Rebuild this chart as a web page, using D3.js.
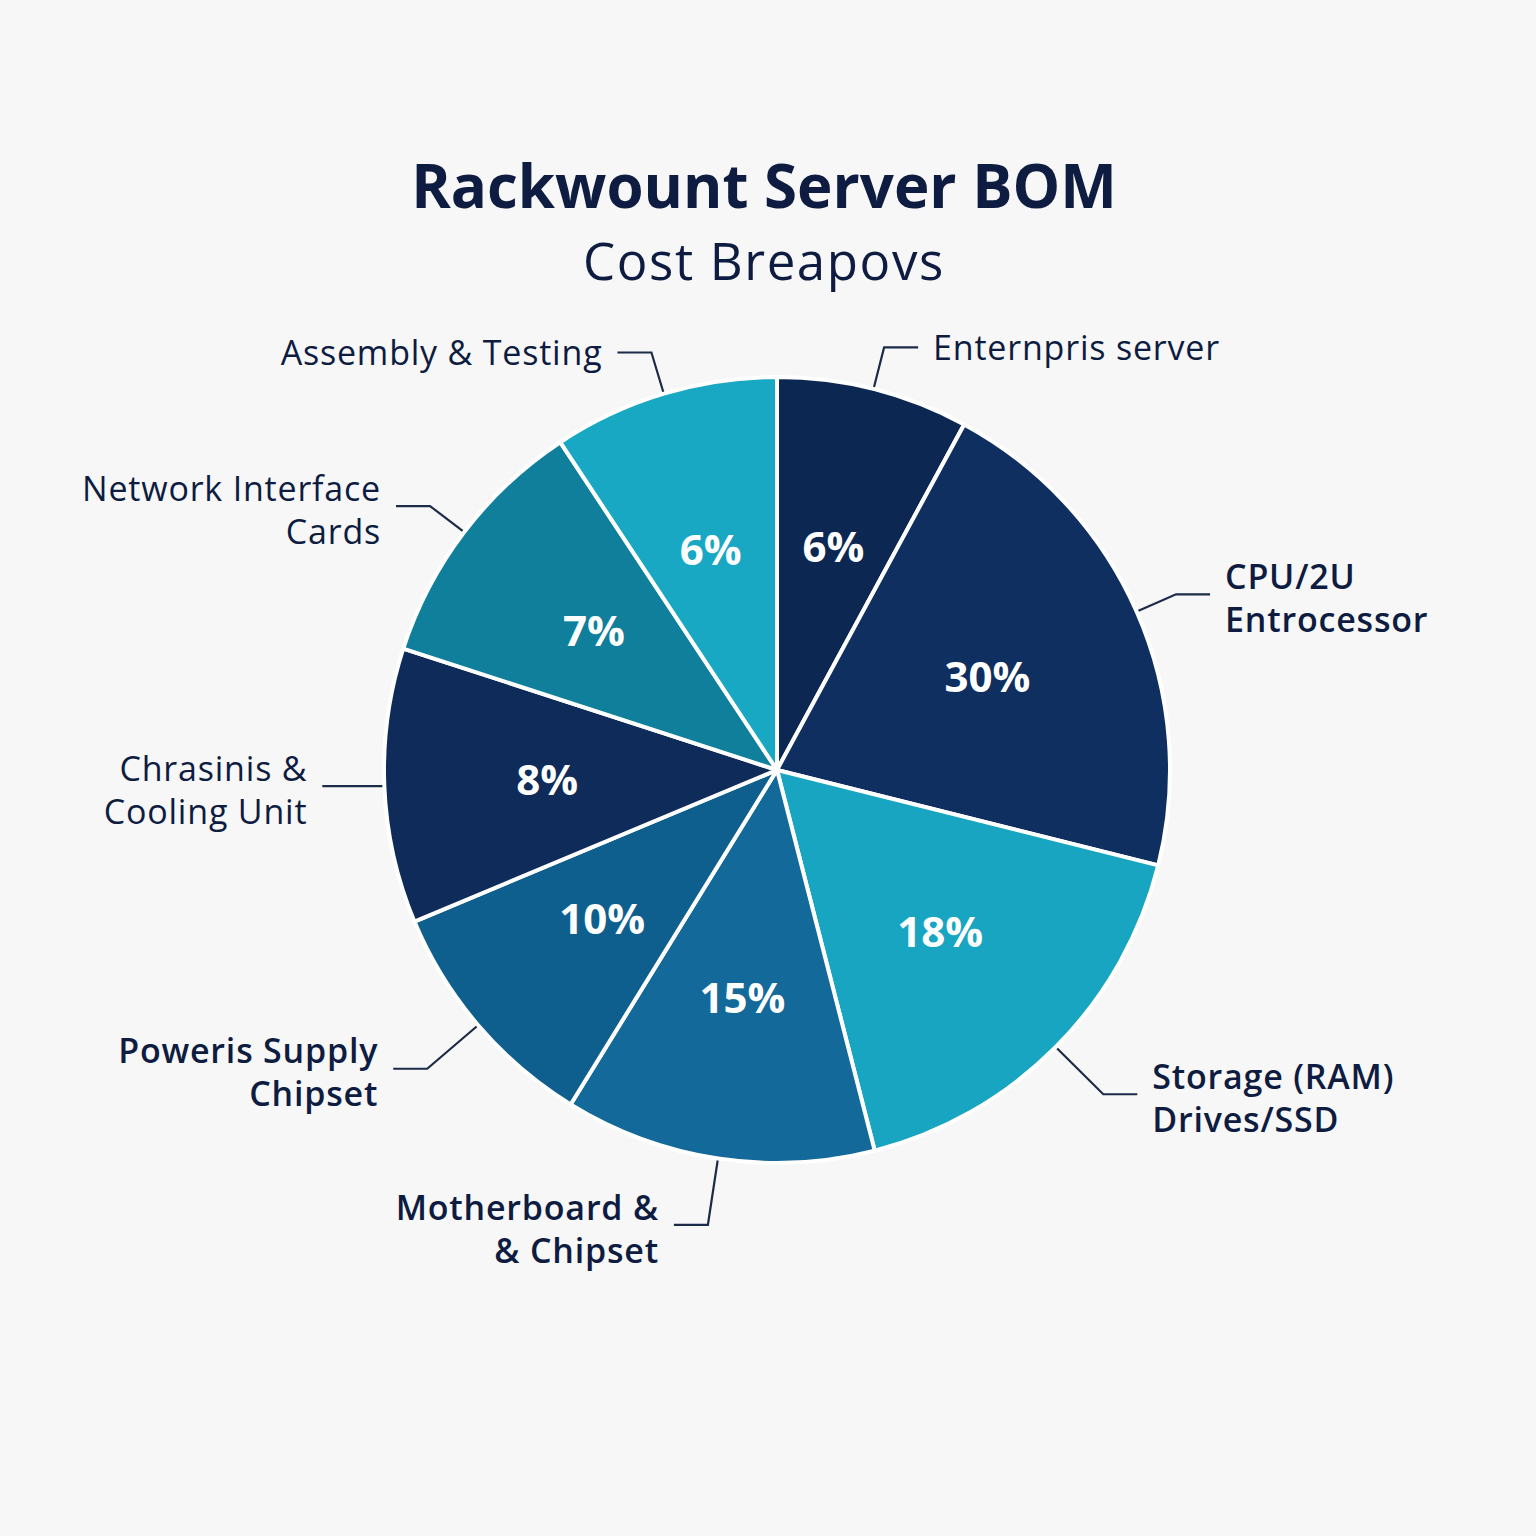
<!DOCTYPE html>
<html>
<head>
<meta charset="utf-8">
<script src="https://cdn.jsdelivr.net/npm/d3@7/dist/d3.min.js"></script>
<style>
  html, body { margin: 0; padding: 0; background: #f7f7f7; }
  svg { display: block; }
</style>
</head>
<body>
<svg id="chart" width="1536" height="1536"></svg>
<script>
// ---- data ----
const categories = [
  "Enternpris server", "CPU/2U Entrocessor", "Storage (RAM) Drives/SSD",
  "Motherboard & & Chipset", "Poweris Supply Chipset", "Chrasinis & Cooling Unit",
  "Network Interface Cards", "Assembly & Testing"
];
const labelLines = [
  ["Enternpris server"], ["CPU/2U", "Entrocessor"], ["Storage (RAM)", "Drives/SSD"],
  ["Motherboard &", "& Chipset"], ["Poweris Supply", "Chipset"], ["Chrasinis &", "Cooling Unit"],
  ["Network Interface", "Cards"], ["Assembly & Testing"]
];
// printed percentages
const percentLabels = [6, 30, 18, 15, 10, 8, 7, 6];
// share of the circle each slice occupies as drawn in the picture (%)
const drawnShare = [7.9, 21.0, 17.1, 12.8, 9.9, 11.3, 10.7, 9.3];
const boldLabel = [false, true, true, true, true, false, false, false];
const sliceColors = ["#0c2752", "#0f2f60", "#17a5c1", "#13699a", "#0f5f8e", "#0e2b5a", "#0f7f9c", "#18a8c4"];

const title = "Rackwount Server BOM";
const subtitle = "Cost Breapovs";

// ---- layout ----
const W = 1536, H = 1536;
const cx = 777, cy = 770, R = 393;
const FONT = "'Open Sans', 'Noto Sans', sans-serif";
const svg = d3.select("#chart");
svg.append("rect").attr("width", W).attr("height", H).attr("fill", "#f7f7f7");

svg.append("text").attr("x", 764).attr("y", 208).attr("text-anchor", "middle")
  .attr("font-family", FONT).attr("font-weight", 700)
  .attr("font-size", 60).attr("fill", "#0d1c40").text(title);
svg.append("text").attr("x", 764).attr("y", 280).attr("text-anchor", "middle")
  .attr("font-family", FONT).attr("font-weight", 400)
  .attr("font-size", 51).attr("letter-spacing", 1.6).attr("fill", "#0d1c40").text(subtitle);

const data = categories.map((c, i) => ({ name: c, share: drawnShare[i], pct: percentLabels[i], i }));
const pie = d3.pie().value(d => d.share).sort(null);
const arcs = pie(data);
const arc = d3.arc().innerRadius(0).outerRadius(R);
const g = svg.append("g").attr("transform", `translate(${cx},${cy})`);

g.selectAll("path.slice").data(arcs).join("path")
  .attr("class", "slice")
  .attr("d", arc)
  .attr("fill", d => sliceColors[d.data.i])
  .attr("stroke", "#ffffff").attr("stroke-width", 4).attr("stroke-linejoin", "round");

const labelArc = d3.arc().innerRadius(230).outerRadius(230);
g.selectAll("text.pct").data(arcs).join("text")
  .attr("class", "pct")
  .attr("transform", d => `translate(${labelArc.centroid(d)})`)
  .attr("text-anchor", "middle").attr("dy", "0.36em")
  .attr("font-family", FONT).attr("font-weight", 700)
  .attr("font-size", 42).attr("fill", "#ffffff")
  .text(d => d.data.pct + "%");

// leaders + outer labels
const edgeArc = d3.arc().innerRadius(R + 2).outerRadius(R + 2);
arcs.forEach(d => {
  const mid = (d.startAngle + d.endAngle) / 2;
  const bottom = Math.cos(mid) < 0;
  const er = bottom ? 460 : 436;
  const elbowArc = d3.arc().innerRadius(er).outerRadius(er);
  const p0 = edgeArc.centroid(d);
  let p1 = elbowArc.centroid(d);
  const right = Math.sin(mid) > 0;
  let p2;
  if (Math.abs(Math.cos(mid)) < 0.1) {
    // nearly horizontal leaders are drawn straight
    p1 = [p0[0], p0[1]];
    p2 = [p0[0] + (right ? 60 : -60), p0[1]];
  } else {
    p2 = [p1[0] + (right ? 34 : -34), p1[1]];
  }
  g.append("polyline")
    .attr("points", [p0, p1, p2].map(p => p.join(",")).join(" "))
    .attr("fill", "none").attr("stroke", "#1b2b48").attr("stroke-width", 2.2);
  const lines = labelLines[d.data.i];
  const lh = 43;
  const tx = p2[0] + (right ? 15 : -15);
  const yOff = lines.length > 1 ? 4 : 0;
  const y0 = p2[1] + yOff - (lines.length - 1) * lh / 2;
  lines.forEach((ln, k) => {
    g.append("text")
      .attr("x", tx).attr("y", y0 + k * lh).attr("dy", "0.36em")
      .attr("text-anchor", right ? "start" : "end")
      .attr("font-family", FONT)
      .attr("font-weight", boldLabel[d.data.i] ? 600 : 400)
      .attr("font-size", 34).attr("letter-spacing", 0.8).attr("fill", "#0d1c40")
      .text(ln);
  });
});
</script>
</body>
</html>
